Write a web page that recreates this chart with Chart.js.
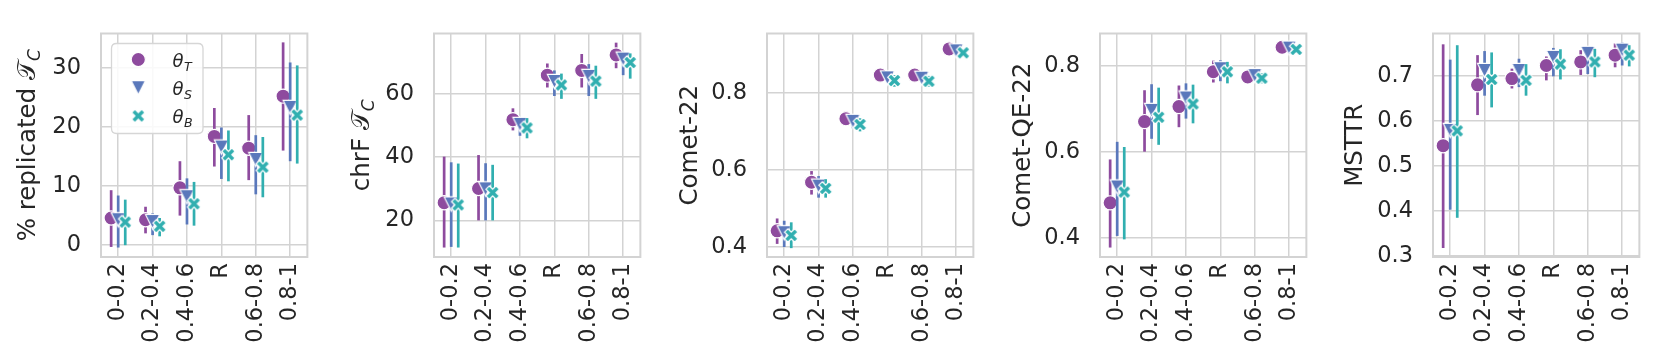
<!DOCTYPE html>
<html><head><meta charset="utf-8">
<script src="https://cdn.jsdelivr.net/npm/chart.js@4.4.1/dist/chart.umd.min.js"></script>
<style>
html,body{margin:0;padding:0;background:#fff;}
#wrap{position:relative;width:1660px;height:360px;overflow:hidden;background:#fff;}
#wrap canvas{position:absolute;top:0;}
</style></head><body><div id="wrap"></div>
<script>
// ---------- data ----------
const categories = ['0-0.2','0.2-0.4','0.4-0.6','R','0.6-0.8','0.8-1'];
const seriesSymbol = 'θ';
const seriesSubs = ['T','S','B'];

// % replicated T_C
const replT    = [4.6, 4.3, 9.7, 18.4, 16.4, 25.2];
const replT_lo = [-0.3, 2.0, 5.0, 13.3, 11.0, 16.0];
const replT_hi = [9.3, 6.5, 14.2, 23.2, 22.0, 34.3];
const replS    = [4.3, 4.0, 8.2, 16.6, 14.5, 23.3];
const replS_lo = [-0.4, 1.7, 3.5, 11.2, 8.6, 14.2];
const replS_hi = [8.4, 5.4, 11.3, 19.9, 18.6, 30.9];
const replB    = [3.9, 3.2, 7.0, 15.3, 13.2, 22.0];
const replB_lo = [0.0, 1.5, 3.3, 10.8, 8.1, 13.8];
const replB_hi = [7.7, 4.6, 10.7, 19.4, 18.3, 30.4];
const replTicks = [0, 10, 20, 30];
const replTickLabels = ['0','10','20','30'];

// chrF T_C
const chrfT    = [25.6, 30.1, 51.9, 66.0, 67.5, 72.4];
const chrfT_lo = [11.4, 20.0, 48.5, 62.1, 62.1, 68.2];
const chrfT_hi = [40.2, 40.7, 55.5, 69.7, 72.7, 76.3];
const chrfS    = [25.2, 30.0, 50.4, 64.0, 65.6, 71.1];
const chrfS_lo = [11.6, 20.0, 46.8, 59.4, 59.4, 66.0];
const chrfS_hi = [38.4, 38.1, 52.0, 67.5, 69.5, 73.4];
const chrfB    = [24.9, 28.8, 49.3, 62.9, 64.1, 70.0];
const chrfB_lo = [11.4, 20.0, 46.0, 58.5, 58.5, 64.9];
const chrfB_hi = [38.0, 37.6, 52.4, 66.5, 69.0, 72.9];
const chrfTicks = [20, 40, 60];
const chrfTickLabels = ['20','40','60'];

// Comet-22
const cometT    = [0.442, 0.568, 0.733, 0.846, 0.846, 0.914];
const cometT_lo = [0.408, 0.536, 0.716, 0.838, 0.838, 0.906];
const cometT_hi = [0.474, 0.597, 0.752, 0.856, 0.856, 0.922];
const cometS    = [0.437, 0.558, 0.726, 0.839, 0.838, 0.909];
const cometS_lo = [0.400, 0.528, 0.708, 0.828, 0.827, 0.900];
const cometS_hi = [0.468, 0.584, 0.742, 0.850, 0.850, 0.918];
const cometB    = [0.430, 0.552, 0.718, 0.832, 0.830, 0.904];
const cometB_lo = [0.397, 0.528, 0.700, 0.816, 0.816, 0.895];
const cometB_hi = [0.464, 0.576, 0.734, 0.846, 0.844, 0.914];
const cometTicks = [0.4, 0.6, 0.8];
const cometTickLabels = ['0.4','0.6','0.8'];

// Comet-QE-22
const qeT    = [0.481, 0.670, 0.705, 0.786, 0.774, 0.843];
const qeT_lo = [0.377, 0.600, 0.657, 0.761, 0.762, 0.835];
const qeT_hi = [0.582, 0.743, 0.754, 0.812, 0.786, 0.851];
const qeS    = [0.518, 0.696, 0.725, 0.793, 0.777, 0.841];
const qeS_lo = [0.404, 0.630, 0.677, 0.764, 0.765, 0.833];
const qeS_hi = [0.623, 0.757, 0.759, 0.813, 0.790, 0.849];
const qeB    = [0.506, 0.680, 0.711, 0.786, 0.771, 0.838];
const qeB_lo = [0.396, 0.616, 0.666, 0.759, 0.759, 0.830];
const qeB_hi = [0.611, 0.749, 0.756, 0.809, 0.783, 0.846];
const qeTicks = [0.4, 0.6, 0.8];
const qeTickLabels = ['0.4','0.6','0.8'];

// MSTTR
const msttrT    = [0.545, 0.680, 0.694, 0.723, 0.731, 0.746];
const msttrT_lo = [0.318, 0.613, 0.672, 0.690, 0.702, 0.719];
const msttrT_hi = [0.770, 0.746, 0.716, 0.743, 0.757, 0.772];
const msttrS    = [0.579, 0.712, 0.712, 0.741, 0.750, 0.757];
const msttrS_lo = [0.403, 0.656, 0.675, 0.699, 0.704, 0.723];
const msttrS_hi = [0.736, 0.755, 0.738, 0.762, 0.766, 0.774];
const msttrB    = [0.578, 0.692, 0.690, 0.726, 0.731, 0.746];
const msttrB_lo = [0.385, 0.630, 0.656, 0.692, 0.697, 0.721];
const msttrB_hi = [0.768, 0.752, 0.726, 0.759, 0.760, 0.768];
const msttrTicks = [0.3, 0.4, 0.5, 0.6, 0.7];
const msttrTickLabels = ['0.3','0.4','0.5','0.6','0.7'];

const yTitles = ['% replicated ', 'chrF ', 'Comet-22', 'Comet-QE-22', 'MSTTR'];
const yTitleHasTC = [true, true, false, false, false];

// ---------- styling ----------
const colors = ['#8e4b9e', '#5a78bb', '#31afb0'];
const dodge = [-0.205, 0, 0.205];
const textColor = '#262626';
const gridColor = '#d3d3d3';
const FONT = '"DejaVu Sans", sans-serif';
Chart.defaults.font.family = FONT;

const panels = [
  {means:[replT,replS,replB], lo:[replT_lo,replS_lo,replB_lo], hi:[replT_hi,replS_hi,replB_hi], ticks:replTicks, labels:replTickLabels, min:-2.0, max:35.8, left:1, titleOff:66},
  {means:[chrfT,chrfS,chrfB], lo:[chrfT_lo,chrfS_lo,chrfB_lo], hi:[chrfT_hi,chrfS_hi,chrfB_hi], ticks:chrfTicks, labels:chrfTickLabels, min:8.4, max:79.2, left:334, titleOff:65},
  {means:[cometT,cometS,cometB], lo:[cometT_lo,cometS_lo,cometB_lo], hi:[cometT_hi,cometS_hi,cometB_hi], ticks:cometTicks, labels:cometTickLabels, min:0.374, max:0.954, left:667, titleOff:70.5},
  {means:[qeT,qeS,qeB], lo:[qeT_lo,qeS_lo,qeB_lo], hi:[qeT_hi,qeS_hi,qeB_hi], ticks:qeTicks, labels:qeTickLabels, min:0.355, max:0.875, left:1000, titleOff:70},
  {means:[msttrT,msttrS,msttrB], lo:[msttrT_lo,msttrS_lo,msttrB_lo], hi:[msttrT_hi,msttrS_hi,msttrB_hi], ticks:msttrTicks, labels:msttrTickLabels, min:0.298, max:0.794, left:1333, titleOff:71}
];

// ---------- marker images ----------
const MS = 14.2, EW = 1.2;
function makeTri(color) {
  const s = 21; const c = document.createElement('canvas'); c.width = s; c.height = s;
  const g = c.getContext('2d'); g.translate(s/2, s/2);
  const h = MS/2;
  g.beginPath(); g.moveTo(-h,-h); g.lineTo(h,-h); g.lineTo(0,h); g.closePath();
  g.fillStyle = color; g.fill(); g.lineWidth = EW; g.strokeStyle = '#fff'; g.lineJoin = 'miter'; g.stroke();
  return c;
}
function makeX(color) {
  const s = 21; const c = document.createElement('canvas'); c.width = s; c.height = s;
  const g = c.getContext('2d'); g.translate(s/2, s/2); g.rotate(Math.PI/4);
  const u = MS/6;
  const pts = [[-1,-3],[1,-3],[1,-1],[3,-1],[3,1],[1,1],[1,3],[-1,3],[-1,1],[-3,1],[-3,-1],[-1,-1]];
  g.beginPath(); pts.forEach(([a,b],i)=> i ? g.lineTo(a*u,b*u) : g.moveTo(a*u,b*u)); g.closePath();
  g.fillStyle = color; g.fill(); g.lineWidth = EW; g.strokeStyle = '#fff'; g.lineJoin = 'miter'; g.stroke();
  return c;
}
const markerImgs = [null, makeTri(colors[1]), makeX(colors[2])];
const pointStyles = ['circle', markerImgs[1], markerImgs[2]];

function drawMarker(ctx, k, x, y) {
  if (k === 0) {
    ctx.beginPath(); ctx.arc(x, y, MS/2, 0, Math.PI*2);
    ctx.fillStyle = colors[0]; ctx.fill(); ctx.lineWidth = EW; ctx.strokeStyle = '#fff'; ctx.stroke();
  } else {
    const img = markerImgs[k]; ctx.drawImage(img, x - img.width/2, y - img.height/2);
  }
}

// ---------- plugins ----------
const errPlugin = {
  id: 'errbars',
  beforeDatasetDraw(chart, args) {
    const ds = chart.data.datasets[args.index];
    const xs = chart.scales.x, ys = chart.scales.y, ctx = chart.ctx;
    ctx.save(); ctx.strokeStyle = ds.errColor; ctx.lineWidth = 2.7; ctx.lineCap = 'butt';
    ds.data.forEach((p, i) => {
      const px = xs.getPixelForValue(p.x);
      ctx.beginPath();
      ctx.moveTo(px, ys.getPixelForValue(ds.errLo[i]));
      ctx.lineTo(px, ys.getPixelForValue(ds.errHi[i]));
      ctx.stroke();
    });
    ctx.restore();
  }
};
const boxPlugin = {
  id: 'box',
  beforeDatasetsDraw(chart) {
    const ca = chart.chartArea, ctx = chart.ctx;
    ctx.save(); ctx.strokeStyle = gridColor; ctx.lineWidth = 2;
    ctx.strokeRect(ca.left, ca.top, ca.right - ca.left, ca.bottom - ca.top);
    ctx.restore();
  }
};
const titlePlugin = {
  id: 'yTitle',
  afterDraw(chart, args, opts) {
    const ctx = chart.ctx, ca = chart.chartArea;
    const x = ca.left - opts.offset, y = (ca.top + ca.bottom) / 2;
    const parts = [{t: opts.text, f: '24.5px ' + FONT, dy: 0}];
    if (opts.tc) {
      parts.push({t: '𝒯', f: '24.5px ' + FONT, dy: 0});
      parts.push({t: 'C', f: 'italic 17px ' + FONT, dy: 5});
    }
    ctx.save(); ctx.translate(x, y); ctx.rotate(-Math.PI/2);
    ctx.fillStyle = textColor; ctx.textBaseline = 'alphabetic'; ctx.textAlign = 'left';
    let total = 0;
    parts.forEach(p => { ctx.font = p.f; p.w = ctx.measureText(p.t).width; total += p.w; });
    let cx = -total / 2;
    parts.forEach(p => { ctx.font = p.f; ctx.fillText(p.t, cx, p.dy); cx += p.w; });
    ctx.restore();
  }
};
const legendPlugin = {
  id: 'thetaLegend',
  afterDatasetsDraw(chart, args, opts) {
    if (!opts.show) return;
    const ctx = chart.ctx, ca = chart.chartArea;
    const bx = ca.left + 10.5, by = ca.top + 10, bw = 91.5, bh = 90, r = 5;
    ctx.save();
    ctx.beginPath();
    ctx.moveTo(bx + r, by); ctx.lineTo(bx + bw - r, by); ctx.quadraticCurveTo(bx + bw, by, bx + bw, by + r);
    ctx.lineTo(bx + bw, by + bh - r); ctx.quadraticCurveTo(bx + bw, by + bh, bx + bw - r, by + bh);
    ctx.lineTo(bx + r, by + bh); ctx.quadraticCurveTo(bx, by + bh, bx, by + bh - r);
    ctx.lineTo(bx, by + r); ctx.quadraticCurveTo(bx, by, bx + r, by); ctx.closePath();
    ctx.fillStyle = 'rgba(255,255,255,0.85)'; ctx.fill();
    ctx.strokeStyle = '#d6d6d6'; ctx.lineWidth = 1.3; ctx.stroke();
    seriesSubs.forEach((sub, k) => {
      const my = ca.top + 26 + k * 28.2;
      drawMarker(ctx, k, ca.left + 37.3, my);
      ctx.fillStyle = textColor; ctx.textBaseline = 'alphabetic'; ctx.textAlign = 'left';
      ctx.font = 'italic 18px ' + FONT;
      const tx = ca.left + 71.5;
      ctx.fillText(seriesSymbol, tx, my + 7);
      const w = ctx.measureText(seriesSymbol).width;
      ctx.font = 'italic 12.6px ' + FONT;
      ctx.fillText(sub, tx + w + 0.5, my + 11);
    });
    ctx.restore();
  }
};

// ---------- build ----------
const wrap = document.getElementById('wrap');
panels.forEach((p, idx) => {
  const cv = document.createElement('canvas');
  cv.width = 323; cv.height = 360; cv.style.left = p.left + 'px';
  cv.style.width = '323px'; cv.style.height = '360px';
  wrap.appendChild(cv);
  new Chart(cv, {
    type: 'scatter',
    data: {
      datasets: seriesSubs.map((sub, k) => ({
        label: seriesSymbol + '_' + sub,
        data: p.means[k].map((v, i) => ({x: i + dodge[k], y: v})),
        errLo: p.lo[k], errHi: p.hi[k], errColor: colors[k],
        pointStyle: pointStyles[k],
        pointRadius: MS/2, pointHoverRadius: MS/2,
        backgroundColor: colors[k], borderColor: '#ffffff', borderWidth: EW,
        showLine: false, clip: false, order: 3 - k
      }))
    },
    options: {
      responsive: false, animation: false, events: [],
      layout: {padding: {top: 15, right: 10, left: 0, bottom: 0}},
      plugins: {
        legend: {display: false}, tooltip: {enabled: false},
        yTitle: {text: yTitles[idx], tc: yTitleHasTC[idx], offset: p.titleOff},
        thetaLegend: {show: idx === 0}
      },
      scales: {
        x: {
          type: 'linear', min: -0.5, max: 5.5,
          afterBuildTicks: s => { s.ticks = categories.map((c, i) => ({value: i})); },
          afterFit: s => { s.height = 103; },
          grid: {color: gridColor, lineWidth: 1.5, drawTicks: false},
          border: {display: false},
          ticks: {autoSkip: false, maxRotation: 90, minRotation: 90, padding: 6, color: textColor,
                  font: {size: 22.5}, callback: v => categories[Math.round(v)]}
        },
        y: {
          type: 'linear', min: p.min, max: p.max,
          afterBuildTicks: s => { s.ticks = p.ticks.map(v => ({value: v})); },
          afterFit: s => { s.width = 100; },
          grid: {color: gridColor, lineWidth: 1.5, drawTicks: false},
          border: {display: false},
          ticks: {padding: 20, color: textColor, font: {size: 22.5},
                  callback: (v, i) => p.labels[i]}
        }
      }
    },
    plugins: [errPlugin, boxPlugin, titlePlugin, legendPlugin]
  });
});
</script>
</body></html>
